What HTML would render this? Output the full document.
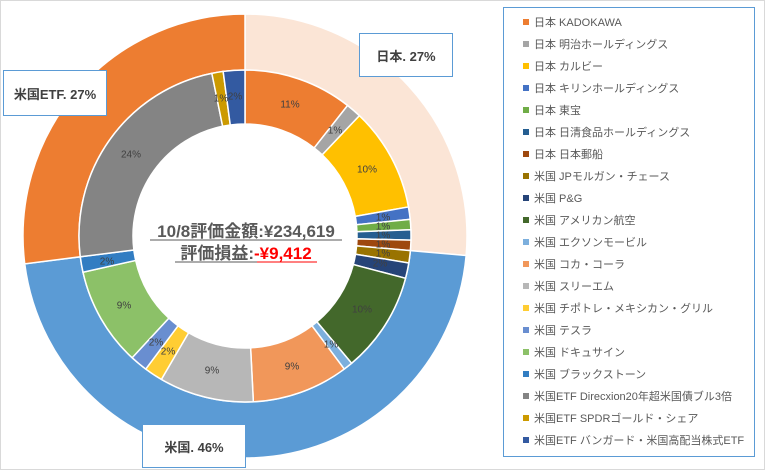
<!DOCTYPE html>
<html><head><meta charset="utf-8"><style>
body{margin:0;width:765px;height:470px;overflow:hidden;background:#fff;font-family:"Liberation Sans","Noto Sans CJK JP",sans-serif}
#wrap{position:absolute;left:0;top:0;width:763px;height:468px;border:1px solid #d9d9d9}
.lg{position:absolute;left:503px;top:7px;width:252px;height:450px;border:1px solid #5b9bd5;box-sizing:border-box}
.it{position:absolute;left:19px;font-size:11px;color:#595959;white-space:nowrap;line-height:14px}
.it i{display:inline-block;width:6px;height:6px;margin-right:5px;vertical-align:1px}
.cb{position:absolute;border:1px solid #5b9bd5;background:#fff;font-size:13px;font-weight:bold;color:#404040;display:flex;align-items:center;justify-content:center;box-sizing:border-box}
</style></head><body><div id="wrap"></div>
<svg id="s" width="765" height="470" style="position:absolute;left:0;top:0">
<g id="arcs"></g>
<g font-size="10" fill="#404040" text-anchor="middle" dominant-baseline="middle">
<text x="290" y="105">11%</text><text x="335" y="131">1%</text><text x="367" y="170">10%</text>
<text x="383" y="218">1%</text><text x="383" y="227">1%</text><text x="383" y="236">1%</text><text x="383" y="245">1%</text><text x="383" y="254">1%</text><text x="380" y="264">2%</text>
<text x="362" y="310">10%</text><text x="331" y="345">1%</text><text x="292" y="367">9%</text><text x="212" y="371">9%</text>
<text x="168" y="352">2%</text><text x="156" y="343">2%</text><text x="124" y="306">9%</text><text x="107" y="262">2%</text>
<text x="131" y="155">24%</text><text x="221" y="99">1%</text><text x="235" y="97">2%</text>
</g>
<g font-size="17" font-weight="bold" fill="#595959" text-anchor="middle">
<text x="246" y="237">10/8評価金額:¥234,619</text>
<text x="246" y="259">評価損益:<tspan fill="#ff0000">-¥9,412</tspan></text>
</g>
<line x1="150" y1="240" x2="342" y2="240" stroke="#595959" stroke-width="1"/>
<line x1="175" y1="262" x2="257" y2="262" stroke="#595959" stroke-width="1"/>
<line x1="257" y1="262" x2="317" y2="262" stroke="#ff0000" stroke-width="1"/>
</svg>
<div class="cb" style="left:359px;top:33px;width:94px;height:44px">日本. 27%</div>
<div class="cb" style="left:3px;top:70px;width:104px;height:46px">米国ETF. 27%</div>
<div class="cb" style="left:142px;top:424px;width:104px;height:44px">米国. 46%</div>
<div class="lg">
<div class="it" style="top:8px"><i style="background:#ED7D31"></i>日本 KADOKAWA</div>
<div class="it" style="top:30px"><i style="background:#A5A5A5"></i>日本 明治ホールディングス</div>
<div class="it" style="top:52px"><i style="background:#FFC000"></i>日本 カルビー</div>
<div class="it" style="top:74px"><i style="background:#4472C4"></i>日本 キリンホールディングス</div>
<div class="it" style="top:96px"><i style="background:#70AD47"></i>日本 東宝</div>
<div class="it" style="top:118px"><i style="background:#255E91"></i>日本 日清食品ホールディングス</div>
<div class="it" style="top:140px"><i style="background:#9E480E"></i>日本 日本郵船</div>
<div class="it" style="top:162px"><i style="background:#997300"></i>米国 JPモルガン・チェース</div>
<div class="it" style="top:184px"><i style="background:#264478"></i>米国 P&amp;G</div>
<div class="it" style="top:206px"><i style="background:#43682B"></i>米国 アメリカン航空</div>
<div class="it" style="top:228px"><i style="background:#7CAFDD"></i>米国 エクソンモービル</div>
<div class="it" style="top:250px"><i style="background:#F1975A"></i>米国 コカ・コーラ</div>
<div class="it" style="top:272px"><i style="background:#B7B7B7"></i>米国 スリーエム</div>
<div class="it" style="top:294px"><i style="background:#FFCD33"></i>米国 チポトレ・メキシカン・グリル</div>
<div class="it" style="top:316px"><i style="background:#698ED0"></i>米国 テスラ</div>
<div class="it" style="top:338px"><i style="background:#8CC168"></i>米国 ドキュサイン</div>
<div class="it" style="top:360px"><i style="background:#327DC2"></i>米国 ブラックストーン</div>
<div class="it" style="top:382px"><i style="background:#848484"></i>米国ETF Direcxion20年超米国債ブル3倍</div>
<div class="it" style="top:404px"><i style="background:#CC9A00"></i>米国ETF SPDRゴールド・シェア</div>
<div class="it" style="top:426px"><i style="background:#335AA1"></i>米国ETF バンガード・米国高配当株式ETF</div>
</div>
<script>
var cx=245,cy=236,g=document.getElementById('arcs');
function pt(r,f){var a=f*2*Math.PI;return [cx+r*Math.sin(a),cy-r*Math.cos(a)];}
function arc(r0,r1,f0,f1,c){var l=(f1-f0)>0.5?1:0;var a=pt(r1,f0),b=pt(r1,f1),d=pt(r0,f1),e=pt(r0,f0);
var p=document.createElementNS('http://www.w3.org/2000/svg','path');
p.setAttribute('d','M'+a+' A'+r1+','+r1+' 0 '+l+' 1 '+b+' L'+d+' A'+r0+','+r0+' 0 '+l+' 0 '+e+'Z');
p.setAttribute('fill',c);p.setAttribute('stroke','#fff');p.setAttribute('stroke-width','1.5');g.appendChild(p);}
arc(166,222,0,.264,'#FBE5D6');arc(166,222,.264,.73,'#5B9BD5');arc(166,222,.73,1,'#ED7D31');
var b=[0,.106,.121,.222,.234,.244,.254,.264,.276,.291,.389,.398,.492,.584,.602,.619,.715,.73,.968,.979,1];
var c=['#ED7D31','#A5A5A5','#FFC000','#4472C4','#70AD47','#255E91','#9E480E','#997300','#264478','#43682B','#7CAFDD','#F1975A','#B7B7B7','#FFCD33','#698ED0','#8CC168','#327DC2','#848484','#CC9A00','#335AA1'];
for(var i=0;i<20;i++)arc(112,166,b[i],b[i+1],c[i]);
</script>
</body></html>
